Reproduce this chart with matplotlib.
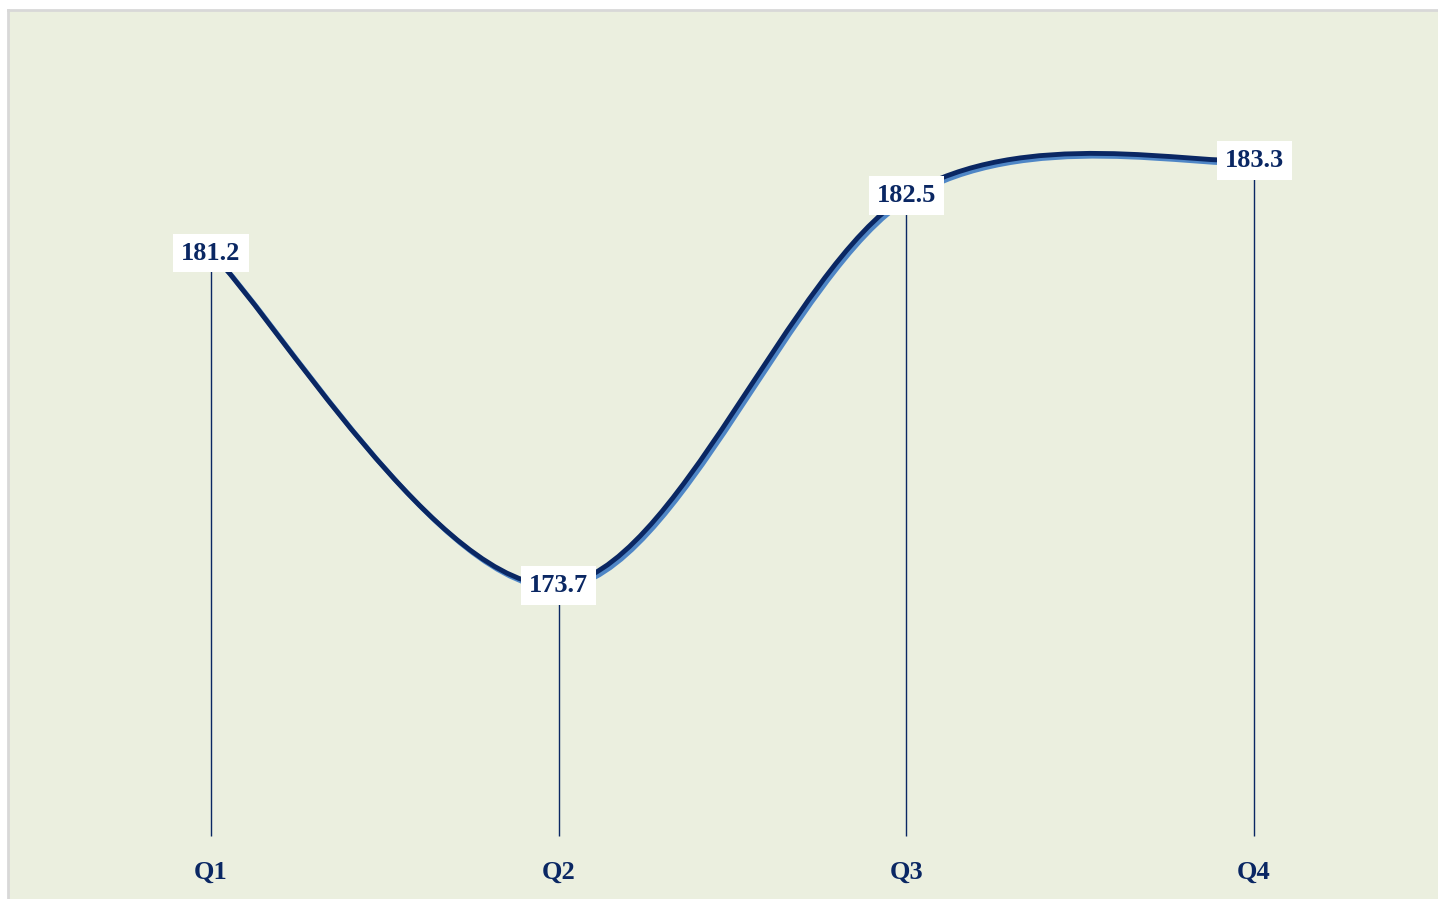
import numpy as np
import matplotlib.pyplot as plt
import matplotlib.patheffects as pe
from matplotlib.path import Path
from matplotlib.patches import PathPatch

quarters = ['Q1', 'Q2', 'Q3', 'Q4']
values = [181.2, 173.7, 182.5, 183.3]

navy = '#0a2763'
shadow = '#4f86c6'
panel = '#ebefdf'

plt.rcParams['font.family'] = ['Liberation Serif', 'DejaVu Serif']

fig = plt.figure(figsize=(14.38, 8.99), dpi=100)
fig.patch.set_facecolor('white')
ax = fig.add_axes([8 / 1438, 0, 1 - 8 / 1438, 889 / 899])
ax.set_facecolor(panel)
ax.set_xlim(-0.584, 3.529)
ax.set_ylim(166.61, 186.69)
for s in ['right', 'bottom']:
    ax.spines[s].set_visible(False)
for s in ['top', 'left']:
    ax.spines[s].set_color('#d8d8d8')
    ax.spines[s].set_linewidth(2)
ax.set_xticks([])
ax.set_yticks([])

x = np.arange(len(values), dtype=float)
y = np.array(values)

# catmull-rom style smoothing (end points duplicated)
n = len(x)
tang = []
for i in range(n):
    a = max(i - 1, 0)
    b = min(i + 1, n - 1)
    tang.append(((x[b] - x[a]) / 2, (y[b] - y[a]) / 2))

verts = [(x[0], y[0])]
codes = [Path.MOVETO]
for i in range(n - 1):
    c1 = (x[i] + tang[i][0] / 3, y[i] + tang[i][1] / 3)
    c2 = (x[i + 1] - tang[i + 1][0] / 3, y[i + 1] - tang[i + 1][1] / 3)
    verts += [c1, c2, (x[i + 1], y[i + 1])]
    codes += [Path.CURVE4] * 3
curve = PathPatch(Path(verts, codes), facecolor='none', edgecolor=navy,
                  lw=3.5, capstyle='round', zorder=3,
                  path_effects=[pe.SimpleLineShadow(offset=(1.9, -2.0), shadow_color=shadow, alpha=1),
                                pe.Normal()])
ax.add_patch(curve)

base = 168.03
ax.vlines(x, base, y, color=navy, lw=1.0, zorder=2)

for xi, yi in zip(x, values):
    ax.text(xi, yi, f'{yi:.1f}', ha='center', va='center', fontsize=19,
            fontweight='bold', color=navy, zorder=5,
            bbox=dict(boxstyle='square,pad=0.3', fc='white', ec='none'))

for xi, q in zip(x, quarters):
    ax.text(xi, 167.22, q, ha='center', va='center', fontsize=19,
            fontweight='bold', color=navy)

fig.savefig('out.png', dpi=100)
